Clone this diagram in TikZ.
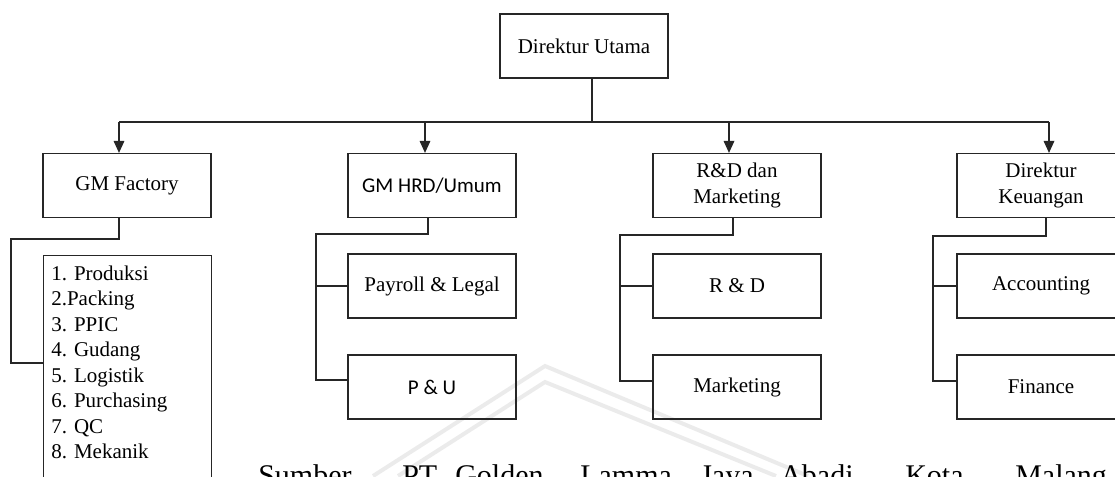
\documentclass[tikz,border=0pt]{standalone}
\usepackage{fontspec}
\setmainfont{Liberation Serif}
\newfontfamily\calfont{Carlito}
\usetikzlibrary{arrows.meta}
\newcommand{\myfs}{\fontsize{15.75}{19.5}\selectfont}
\begin{document}
\begin{tikzpicture}[x=0.75pt,y=-0.75pt,
  box/.style={draw=black!85, line width=0.9pt, minimum width=126pt, minimum height=48pt,
              inner sep=0pt, font=\myfs, align=center},
  sbox/.style={box, font=\calfont\myfs},
  wire/.style={draw=black!85, line width=0.9pt},
  arr/.style={wire, -{Triangle[length=9pt,width=8pt]}},
  wmark/.style={draw=gray!16, line width=3pt},
  capword/.style={anchor=base west, inner sep=0pt, font=\fontsize{22.5}{26}\selectfont}]
\useasboundingbox (0,0) rectangle (1115,476);
\clip (0,0) rectangle (1115,476);

% watermark
\draw[wmark] (373,476) -- (545,366) -- (808,476);
\draw[wmark] (398,476) -- (545,382) -- (776,476);

% top level
\node[box] (du) at (584,46) {Direktur Utama};
\node[box] (gmf) at (127,185.5) {GM Factory};
\node[sbox] (hrd) at (432,185.5) {GM HRD/Umum};
\node[box] (rnd) at (737,185.5) {R\&D dan\\Marketing};
\node[box] (dk) at (1041,185.5) {Direktur\\Keuangan};

% bus
\coordinate (b0) at (592,122);
\coordinate (b1) at (119,122);
\coordinate (b2) at (425,122);
\coordinate (b3) at (729,122);
\coordinate (b4) at (1049,122);
\draw[wire] (du.south -| b0) -- (b0);
\draw[wire] (b1) -- (b4);
\draw[arr] (b1) -- (b1 |- gmf.north);
\draw[arr] (b2) -- (b2 |- hrd.north);
\draw[arr] (b3) -- (b3 |- rnd.north);
\draw[arr] (b4) -- (b4 |- dk.north);

% GM Factory list
\node[draw=black!85, line width=0.9pt, anchor=north west, minimum width=126pt,
      minimum height=200pt, inner sep=0pt] (list) at (43,255) {};
\node[anchor=north west, inner sep=0pt, align=left,
      font=\fontsize{15.75}{19.1}\selectfont] (listtxt) at (51,265.5)
  {1. Produksi\\2.Packing\\3. PPIC\\4. Gudang\\5. Logistik\\6. Purchasing\\7. QC\\8. Mekanik};
\coordinate (f1) at (119,239);
\coordinate (f2) at (11,239);
\coordinate (f3) at (11,363);
\draw[wire] (f1 |- gmf.south) -- (f1) -- (f2) -- (f3) -- (f3 -| list.west);

% HRD
\node[box] (pay) at (432,286) {Payroll \& Legal};
\node[sbox] (pu) at (432,387) {P \& U};
\coordinate (h1) at (428,234);
\coordinate (h2) at (316,234);
\coordinate (h3) at (316,380);
\draw[wire] (h1 |- hrd.south) -- (h1) -- (h2) -- (h3) -- (h3 -| pu.west);
\draw[wire] (h2 |- pay.west) -- (pay.west);

% R&D
\node[box] (rd) at (737,286) {R \& D};
\node[box] (mkt) at (737,387) {Marketing};
\coordinate (r1) at (733,235);
\coordinate (r2) at (620,235);
\coordinate (r3) at (620,381);
\draw[wire] (r1 |- rnd.south) -- (r1) -- (r2) -- (r3) -- (r3 -| mkt.west);
\draw[wire] (r2 |- rd.west) -- (rd.west);

% Keuangan
\node[box] (acc) at (1041,286) {Accounting};
\node[box] (fin) at (1041,387) {Finance};
\coordinate (k1) at (1046,236);
\coordinate (k2) at (933,236);
\coordinate (k3) at (933,381);
\draw[wire] (k1 |- dk.south) -- (k1) -- (k2) -- (k3) -- (k3 -| fin.west);
\draw[wire] (k2 |- acc.west) -- (acc.west);

% caption (cut off at the bottom edge, as in the reference)
\node[capword] (c1) at (258,485) {Sumber};
\node[capword] (c2) at (402,485) {PT.};
\node[capword] (c3) at (455,485) {Golden};
\node[capword] (c4) at (580,485) {Lamma};
\node[capword] (c5) at (700,485) {Jaya};
\node[capword] (c6) at (780,485) {Abadi};
\node[capword] (c7) at (905,485) {Kota};
\node[capword] (c8) at (1015,485) {Malang};
\end{tikzpicture}
\end{document}
